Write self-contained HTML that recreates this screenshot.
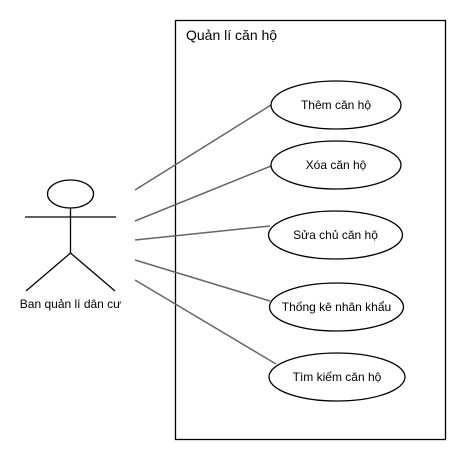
<!DOCTYPE html>
<html><head><meta charset="utf-8"><style>
html,body{margin:0;padding:0;background:#fff;}
svg{display:block;font-family:"Liberation Sans",Arial,sans-serif;}
</style></head><body>
<svg width="467" height="461" viewBox="0 0 467 461">
<rect x="0" y="0" width="467" height="461" fill="#fff"/>
<g>
<rect x="175.5" y="20.5" width="270" height="419" fill="none" stroke="#000" stroke-width="1.3"/>
<text x="186" y="40" font-size="14" fill="#000">Quản lí căn hộ</text>
</g>
<g stroke="#666" stroke-width="1.5">
<line x1="135" y1="190" x2="271" y2="105"/>
<line x1="135" y1="221" x2="271" y2="166"/>
<line x1="135" y1="240" x2="270" y2="226"/>
<line x1="135" y1="260" x2="270" y2="301"/>
<line x1="135" y1="280" x2="276" y2="364"/>
</g>
<g stroke="#000" stroke-width="1.3" fill="none">
<ellipse cx="70.5" cy="194" rx="23" ry="14" fill="#fff"/>
<line x1="70.5" y1="208" x2="70.5" y2="253"/>
<line x1="25" y1="217" x2="116" y2="217"/>
<line x1="70.5" y1="253" x2="26" y2="291"/>
<line x1="70.5" y1="253" x2="115" y2="291"/>
</g>
<text x="70.5" y="308" font-size="12" text-anchor="middle" fill="#000">Ban quản lí dân cư</text>
<g stroke="#000" stroke-width="1.3" fill="#fff" font-size="12">
<g>
<ellipse cx="336" cy="105" rx="65" ry="24"/>
<text x="336" y="109" text-anchor="middle" stroke="none" fill="#000">Thêm căn hộ</text></g>
<g>
<ellipse cx="336" cy="165" rx="65" ry="24"/>
<text x="336" y="169" text-anchor="middle" stroke="none" fill="#000">Xóa căn hộ</text></g>
<g>
<ellipse cx="335.5" cy="235" rx="67" ry="24"/>
<text x="335.5" y="239" text-anchor="middle" stroke="none" fill="#000">Sửa chủ căn hộ</text></g>
<g>
<ellipse cx="336.5" cy="307" rx="67" ry="24"/>
<text x="336.5" y="311" text-anchor="middle" stroke="none" fill="#000">Thống kê nhân khẩu</text></g>
<g>
<ellipse cx="337" cy="377" rx="68" ry="24"/>
<text x="337" y="381" text-anchor="middle" stroke="none" fill="#000">Tìm kiếm căn hộ</text></g>
</g>
</svg>
</body></html>
